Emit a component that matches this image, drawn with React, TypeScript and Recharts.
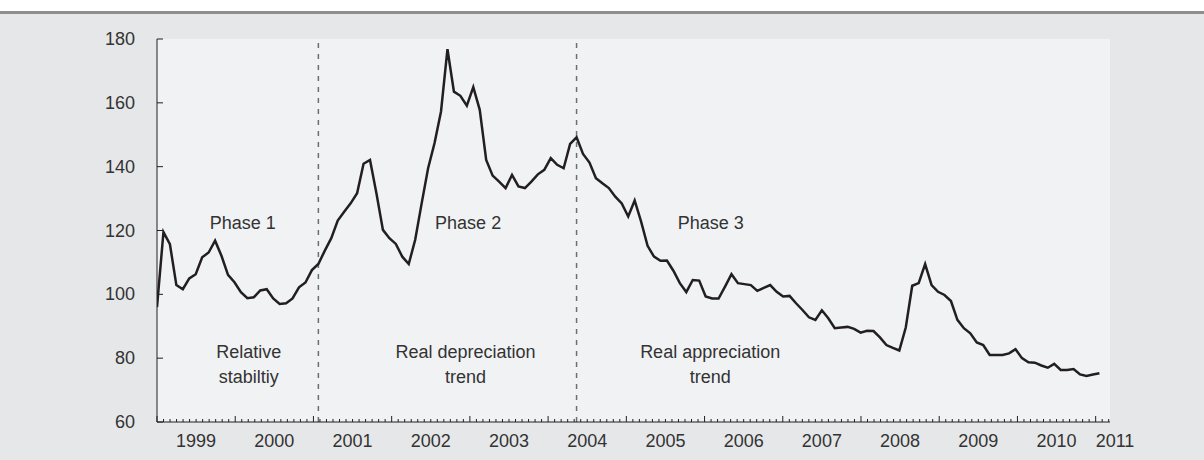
import React from 'react';
import { LineChart, Line, XAxis, YAxis, CartesianGrid, ReferenceLine, ReferenceDot } from 'recharts';

// Monthly index values, Jan 1999 onward
const values: number[] = [
  96.0, 119.5, 115.7, 102.9, 101.6, 105.0, 106.3, 111.6, 113.1, 116.8, 112.0, 106.1,
  103.8, 100.7, 98.8, 99.1, 101.2, 101.6, 98.7, 97.0, 97.2, 98.7, 102.2, 103.7,
  107.6, 109.5, 113.7, 117.6, 123.1, 125.9, 128.5, 131.7, 140.9, 142.1, 131.6, 120.2,
  117.6, 115.8, 111.8, 109.5, 117.1, 128.5, 139.5, 147.4, 157.3, 176.8, 163.5, 162.2,
  159.1, 164.9, 157.8, 142.1, 137.2, 135.3, 133.3, 137.4, 133.8, 133.3, 135.3, 137.6,
  139.0, 142.7, 140.6, 139.5, 147.1, 149.2, 144.0, 141.3, 136.4, 134.8, 133.3, 130.6,
  128.5, 124.4, 129.4, 122.8, 115.2, 111.8, 110.5, 110.6, 107.4, 103.5, 100.7, 104.5,
  104.3, 99.3, 98.7, 98.7, 102.4, 106.3, 103.5, 103.2, 102.9, 101.1, 102.0, 102.9,
  100.8, 99.3, 99.5, 97.2, 95.1, 92.8, 92.0, 95.0, 92.5, 89.4, 89.6, 89.8,
  89.2, 88.0, 88.6, 88.5, 86.5, 84.1, 83.2, 82.4, 89.6, 102.7, 103.5, 109.5,
  102.9, 100.8, 99.8, 97.9, 92.0, 89.4, 87.8, 84.9, 84.1, 81.0, 81.0, 81.0,
  81.5, 82.8, 80.0, 78.7, 78.6, 77.7, 77.0, 78.2, 76.3, 76.3, 76.6, 74.9,
  74.4, 74.9, 75.3,
];

const yearLabels = ['1999', '2000', '2001', '2002', '2003', '2004', '2005', '2006', '2007', '2008', '2009', '2010'];
const endLabel = '2011';
const yTicks = [60, 80, 100, 120, 140, 160, 180];
const monthTicks = Array.from({ length: 147 }, (_, k) => k);

// Phase boundaries (data index)
const phaseBreaks = [25, 65];
const phaseTitles = ['Phase 1', 'Phase 2', 'Phase 3'];
const phaseNotes = [
  ['Relative', 'stabiltiy'],
  ['Real depreciation', 'trend'],
  ['Real appreciation', 'trend'],
];
const phaseTitleX = [13.3, 48.2, 85.8];
const phaseNoteX = [14.2, 47.8, 85.7];
const phaseTitleY = 122.4;
const noteLine1Y = 81.9;
const noteLine2Y = 74.1;

const data = values.map((v, i) => ({ i, v }));

const INK = '#231f20';
const TXT = '#333333';
const FONT = '"Liberation Sans", Arial, sans-serif';

const MonthTick = (props: any) => {
  const { x, y, payload } = props;
  const m = payload.value as number;
  const major = m % 12 === 0;
  const len = major ? 6 : 3;
  let label: React.ReactNode = null;
  if (m % 12 === 6) {
    const idx = (m - 6) / 12;
    label = (
      <text x={x} y={y + 19} textAnchor="middle" dominantBaseline="central" fontSize={18} fill={TXT} fontFamily={FONT}>
        {yearLabels[idx]}
      </text>
    );
  } else if (m === 144) {
    label = (
      <text x={x} y={y + 19} textAnchor="start" dominantBaseline="central" fontSize={18} fill={TXT} fontFamily={FONT}>
        {endLabel}
      </text>
    );
  }
  return (
    <g>
      <line x1={x} x2={x} y1={y} y2={y - len} stroke={INK} strokeWidth={1} />
      {label}
    </g>
  );
};

const YTick = (props: any) => {
  const { x, y, payload } = props;
  return (
    <g>
      <line x1={x + 22} x2={x + 28} y1={y} y2={y} stroke={INK} strokeWidth={1} />
      <text x={x} y={y} textAnchor="end" dominantBaseline="central" fontSize={18} fill={TXT} fontFamily={FONT}>
        {payload.value}
      </text>
    </g>
  );
};

const makeText = (text: string) => (p: any) => (
  <text x={p.cx} y={p.cy} textAnchor="middle" dominantBaseline="central" fontSize={18} fill={TXT} fontFamily={FONT}>
    {text}
  </text>
);

export default function App() {
  return (
    <div style={{ position: 'absolute', left: 0, top: 0, width: 1204, height: 460, background: '#ffffff', fontFamily: FONT }}>
      <div
        style={{
          position: 'absolute',
          left: 0,
          top: 11,
          width: 1204,
          height: 449,
          background: '#e6e7e9',
          borderTop: '3px solid #8e8e8e',
          boxSizing: 'border-box',
        }}
      />
      <div style={{ position: 'absolute', left: 0, top: 0 }}>
        <LineChart width={1204} height={460} data={data} margin={{ top: 39, right: 94, left: 97, bottom: 8 }}>
          <CartesianGrid xAxisId="m" fill="#f1f2f4" stroke="none" horizontal={false} vertical={false} />
          <XAxis
            xAxisId="m"
            dataKey="i"
            type="number"
            domain={[0, 146.2]}
            ticks={monthTicks}
            interval={0}
            tickSize={0}
            tickMargin={0}
            tickLine={false}
            tick={<MonthTick />}
            axisLine={{ stroke: INK, strokeWidth: 1 }}
            height={30}
            allowDataOverflow
          />
          <XAxis xAxisId="d" dataKey="i" type="number" domain={[0, 147.64]} hide height={0} allowDataOverflow />
          <YAxis
            domain={[60, 180]}
            ticks={yTicks}
            interval={0}
            width={60}
            tickSize={0}
            tickMargin={22}
            tickLine={false}
            tick={<YTick />}
            axisLine={{ stroke: INK, strokeWidth: 1 }}
            allowDataOverflow
          />
          {phaseBreaks.map((b) => (
            <ReferenceLine key={b} xAxisId="d" x={b} stroke="#6d6e71" strokeWidth={1.5} strokeDasharray="5 6" />
          ))}
          {phaseTitles.map((t, k) => (
            <ReferenceDot key={t} xAxisId="d" x={phaseTitleX[k]} y={phaseTitleY} r={0} shape={makeText(t)} />
          ))}
          {phaseNotes.map((lines, k) => (
            <ReferenceDot key={'a' + k} xAxisId="d" x={phaseNoteX[k]} y={noteLine1Y} r={0} shape={makeText(lines[0])} />
          ))}
          {phaseNotes.map((lines, k) => (
            <ReferenceDot key={'b' + k} xAxisId="d" x={phaseNoteX[k]} y={noteLine2Y} r={0} shape={makeText(lines[1])} />
          ))}
          <Line
            xAxisId="d"
            type="linear"
            dataKey="v"
            stroke={INK}
            strokeWidth={2.5}
            dot={false}
            activeDot={false}
            isAnimationActive={false}
          />
        </LineChart>
      </div>
    </div>
  );
}
